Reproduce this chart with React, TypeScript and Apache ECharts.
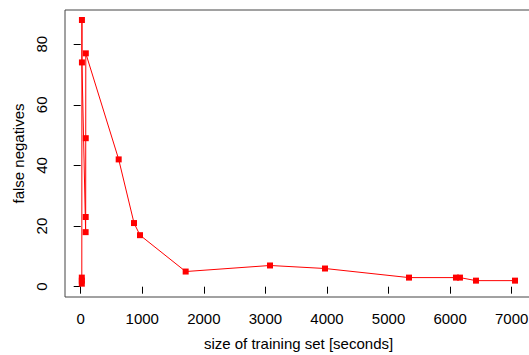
import React, { useEffect, useRef } from "react";
import * as echarts from "echarts";

// size of training set [seconds]
const trainingSizes = [18, 18, 18, 20, 20, 80, 81, 82, 83, 617, 866, 963, 1705, 3075, 3968, 5332, 6095, 6160, 6420, 7054];
// false negatives
const falseNegatives = [3, 1, 2, 88, 74, 18, 23, 49, 77, 42, 21, 17, 5, 7, 6, 3, 3, 3, 2, 2];

const xTicks = [0, 1000, 2000, 3000, 4000, 5000, 6000, 7000];
const yTicks = [0, 20, 40, 60, 80];

const FONT = "'Liberation Sans', Arial, Helvetica, sans-serif";

export default function App() {
  const ref = useRef<HTMLDivElement>(null);

  useEffect(() => {
    if (!ref.current) return;
    const chart = echarts.init(ref.current, null, { renderer: "svg" });
    const data = trainingSizes.map((x, i) => [x, falseNegatives[i]]);
    chart.setOption({
      animation: false,
      backgroundColor: "#ffffff",
      textStyle: { fontFamily: FONT },
      grid: {
        left: 65,
        top: 10,
        width: 467,
        height: 287,
        show: true,
        borderColor: "#444",
        borderWidth: 1,
        backgroundColor: "transparent",
        containLabel: false,
        outerBoundsMode: "none",
      },
      xAxis: {
        type: "value",
        min: -255,
        max: 7330,
        name: "size of training set [seconds]",
        nameLocation: "middle",
        nameGap: 39,
        nameTextStyle: { fontSize: 15, color: "#000", fontFamily: FONT },
        axisLine: { show: false },
        axisTick: {
          show: true,
          length: 7,
          lineStyle: { color: "#000", width: 1 },
          customValues: xTicks,
        },
        axisLabel: {
          fontSize: 15,
          color: "#000",
          margin: 14,
          fontFamily: FONT,
          customValues: xTicks,
          formatter: (v: number) => String(v),
        },
        splitLine: { show: false },
      },
      yAxis: {
        type: "value",
        min: -3.4,
        max: 91.3,
        name: "false negatives",
        nameLocation: "middle",
        nameGap: 34,
        nameTextStyle: { fontSize: 15, color: "#000", fontFamily: FONT },
        axisLine: { show: false },
        axisTick: {
          show: true,
          length: 7,
          lineStyle: { color: "#000", width: 1 },
          customValues: yTicks,
        },
        axisLabel: {
          fontSize: 15,
          color: "#000",
          margin: 16,
          rotate: 90,
          fontFamily: FONT,
          customValues: yTicks,
          formatter: (v: number) => String(v),
        },
        splitLine: { show: false },
      },
      series: [
        {
          type: "line",
          data,
          symbol: "rect",
          symbolSize: 6,
          showSymbol: true,
          itemStyle: { color: "#ff0000" },
          lineStyle: { color: "#ff0000", width: 1 },
        },
      ],
    });
    return () => chart.dispose();
  }, []);

  return (
    <div
      ref={ref}
      style={{ position: "fixed", left: 0, top: 0, width: 529, height: 355 }}
    />
  );
}
